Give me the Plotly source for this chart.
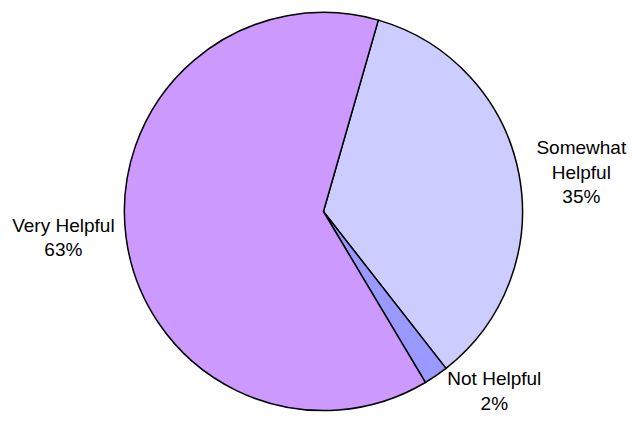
import plotly.graph_objects as go

# Survey responses on helpfulness
categories = ["Somewhat Helpful", "Not Helpful", "Very Helpful"]
display_labels = ["Somewhat<br>Helpful", "Not Helpful", "Very Helpful"]
values = [35, 2, 63]
colors = ["#CCCCFF", "#9999FF", "#CC99FF"]

fig = go.Figure(
    go.Pie(
        labels=categories,
        values=values,
        customdata=display_labels,
        texttemplate="%{customdata}<br>%{percent:.0%}",
        textposition="outside",
        textfont=dict(family="Liberation Sans, Arial, sans-serif", size=19, color="#000000"),
        marker=dict(colors=colors, line=dict(color="#000000", width=1.5)),
        sort=False,
        direction="clockwise",
        rotation=16,
        hoverinfo="label+percent",
        domain=dict(x=[0.199, 0.836], y=[0, 1]),
    )
)

fig.update_layout(
    width=632,
    height=430,
    margin=dict(l=0, r=0, t=9, b=16),
    paper_bgcolor="#FFFFFF",
    plot_bgcolor="#FFFFFF",
    showlegend=False,
)

fig.write_html("out.html")
